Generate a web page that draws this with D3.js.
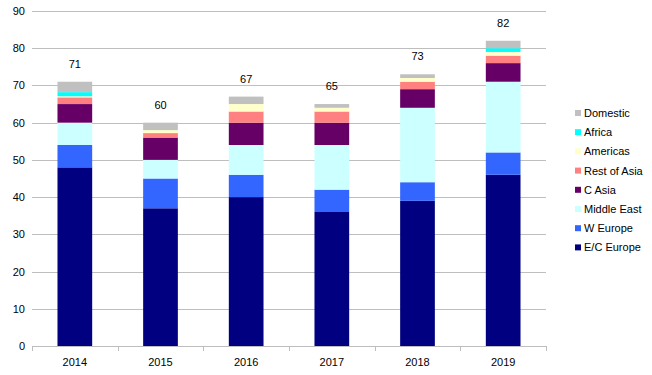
<!DOCTYPE html>
<html>
<head>
<meta charset="utf-8">
<script src="https://cdn.jsdelivr.net/npm/d3@7"></script>
<style>
  html, body { margin: 0; padding: 0; background: #fff; }
  text { font-family: "Liberation Sans", Arial, sans-serif; font-size: 11px; fill: #000; }
</style>
</head>
<body>
<svg id="chart" width="652" height="375"></svg>
<script>
const years = ["2014", "2015", "2016", "2017", "2018", "2019"];
const seriesNames = ["E/C Europe", "W Europe", "Middle East", "C Asia", "Rest of Asia", "Americas", "Africa", "Domestic"];
const seriesColors = ["#000080", "#3366FF", "#CCFFFF", "#660066", "#FF8080", "#FFFFCC", "#00FFFF", "#C0C0C0"];
const ecEurope   = [48, 37, 40, 36, 39, 46];
const wEurope    = [6, 8, 6, 6, 5, 6];
const middleEast = [6, 5, 8, 12, 20, 19];
const cAsia      = [5, 6, 6, 6, 5, 5];
const restOfAsia = [1.8, 1.2, 3, 3, 2, 2];
const americas   = [0.3, 0.8, 2, 1, 1, 1];
const africa     = [1.1, 0, 0, 0, 0, 1];
const domestic   = [2.8, 2, 2, 1, 1, 2];
const totals     = [71, 60, 67, 65, 73, 82];
const yTicks     = [0, 10, 20, 30, 40, 50, 60, 70, 80, 90];

const seriesValues = [ecEurope, wEurope, middleEast, cAsia, restOfAsia, americas, africa, domestic];
const table = years.map((yr, i) => {
  const row = { year: yr };
  seriesNames.forEach((s, j) => row[s] = seriesValues[j][i]);
  return row;
});

const svg = d3.select("#chart");
const plotL = 32, plotR = 546, plotT = 11, plotB = 346;

const x = d3.scaleBand().domain(years).range([plotL, plotR]).padding(0);
const y = d3.scaleLinear().domain([0, 90]).range([plotB, plotT]);
const color = d3.scaleOrdinal().domain(seriesNames).range(seriesColors);

// gridlines
svg.append("g").selectAll("line").data(yTicks.filter(d => d > 0)).join("line")
  .attr("x1", plotL).attr("x2", plotR)
  .attr("y1", d => Math.round(y(d)) + 0.5).attr("y2", d => Math.round(y(d)) + 0.5)
  .attr("stroke", "#BEBEBE").attr("stroke-width", 1);

// y labels
svg.append("g").selectAll("text").data(yTicks).join("text")
  .attr("x", 25).attr("y", d => y(d) + 4)
  .attr("text-anchor", "end").text(d => d);

// stacked bars
const stack = d3.stack().keys(seriesNames)(table);
const bw = x.bandwidth() * 0.405;
const off = (x.bandwidth() - bw) / 2;
svg.append("g").selectAll("g").data(stack).join("g")
  .attr("fill", d => color(d.key))
  .selectAll("rect").data(d => d).join("rect")
  .attr("x", d => x(d.data.year) + off)
  .attr("width", bw)
  .attr("y", d => y(d[1]))
  .attr("height", d => Math.max(0, y(d[0]) - y(d[1])));

// x axis line + ticks
const ax = svg.append("g");
ax.append("line").attr("x1", plotL).attr("x2", plotR)
  .attr("y1", plotB + 0.5).attr("y2", plotB + 0.5)
  .attr("stroke", "#BEBEBE");
const bounds = years.map(d => x(d)).concat([plotR]);
ax.selectAll("line.t").data(bounds).join("line").attr("class", "t")
  .attr("x1", d => Math.round(d) + 0.5).attr("x2", d => Math.round(d) + 0.5)
  .attr("y1", plotB).attr("y2", plotB + 5)
  .attr("stroke", "#BEBEBE");
ax.selectAll("text").data(years).join("text")
  .attr("x", d => x(d) + x.bandwidth() / 2).attr("y", 366)
  .attr("text-anchor", "middle").text(d => d);

// totals
svg.append("g").selectAll("text").data(years).join("text")
  .attr("x", d => x(d) + x.bandwidth() / 2)
  .attr("y", (d, i) => y(totals[i]) - 14)
  .attr("text-anchor", "middle").text((d, i) => totals[i]);

// legend
const legendItems = seriesNames.slice().reverse();
const lg = svg.append("g").selectAll("g").data(legendItems).join("g")
  .attr("transform", (d, i) => `translate(575, ${113 + i * 19.2})`);
lg.append("rect").attr("x", 0).attr("y", -3).attr("width", 6).attr("height", 6)
  .attr("fill", d => color(d));
lg.append("text").attr("x", 9).attr("y", 4).text(d => d);
</script>
</body>
</html>
